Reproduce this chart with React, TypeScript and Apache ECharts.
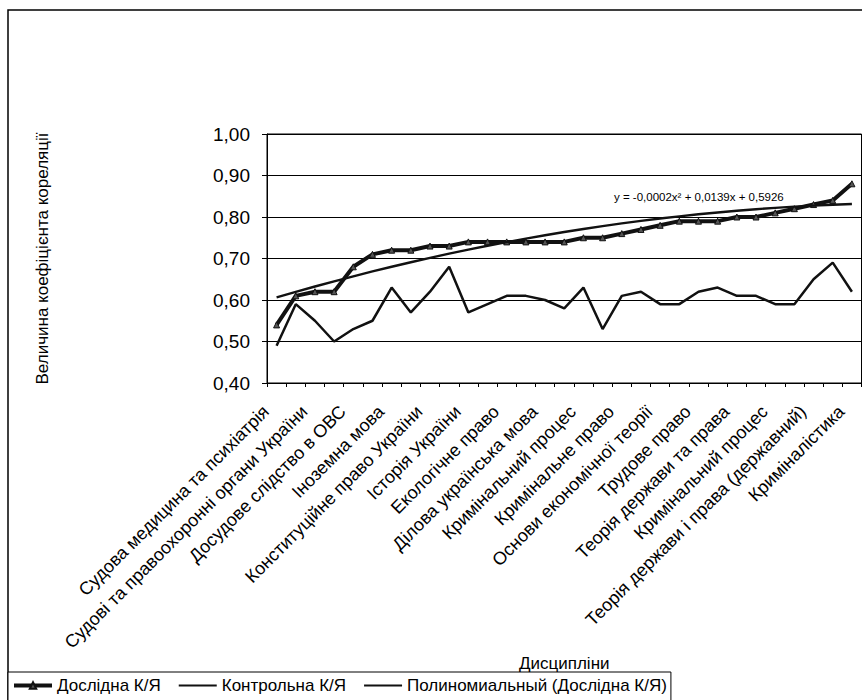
import React, { useEffect, useRef } from "react";
import * as echarts from "echarts";

const categories = [
  "Судова медицина та психіатрія",
  "Дисципліна 2",
  "Судові та правоохоронні органи України",
  "Дисципліна 4",
  "Досудове слідство в ОВС",
  "Дисципліна 6",
  "Іноземна мова",
  "Дисципліна 8",
  "Конституційне право України",
  "Дисципліна 10",
  "Історія України",
  "Дисципліна 12",
  "Екологічне право",
  "Дисципліна 14",
  "Ділова українська мова",
  "Дисципліна 16",
  "Кримінальний процес",
  "Дисципліна 18",
  "Кримінальне право",
  "Дисципліна 20",
  "Основи економічної теорії",
  "Дисципліна 22",
  "Трудове право",
  "Дисципліна 24",
  "Теорія держави та права",
  "Дисципліна 26",
  "Кримінальний процес",
  "Дисципліна 28",
  "Теорія держави і права (державний)",
  "Дисципліна 30",
  "Криміналістика",
];

const doslidna = [
  0.54, 0.61, 0.62, 0.62, 0.68, 0.71, 0.72, 0.72, 0.73, 0.73, 0.74, 0.74, 0.74,
  0.74, 0.74, 0.74, 0.75, 0.75, 0.76, 0.77, 0.78, 0.79, 0.79, 0.79, 0.8, 0.8,
  0.81, 0.82, 0.83, 0.84, 0.88,
];

const kontrolna = [
  0.49, 0.59, 0.55, 0.5, 0.53, 0.55, 0.63, 0.57, 0.62, 0.68, 0.57, 0.59, 0.61,
  0.61, 0.6, 0.58, 0.63, 0.53, 0.61, 0.62, 0.59, 0.59, 0.62, 0.63, 0.61, 0.61,
  0.59, 0.59, 0.65, 0.69, 0.62,
];

const trend = [
  0.6063, 0.6196, 0.6325, 0.645, 0.6571, 0.6688, 0.6801, 0.691, 0.7015,
  0.7116, 0.7213, 0.7306, 0.7395, 0.748, 0.7561, 0.7638, 0.7711, 0.778,
  0.7845, 0.7906, 0.7963, 0.8016, 0.8065, 0.811, 0.8151, 0.8188, 0.8221,
  0.825, 0.8275, 0.8296, 0.8313,
];

const seriesNames = [
  "Дослідна К/Я",
  "Контрольна К/Я",
  "Полиномиальный (Дослідна К/Я)",
];

const equationText = "y = -0,0002x² + 0,0139x + 0,5926";
const yAxisTitle = "Величина коефіцієнта кореляції";
const xAxisTitle = "Дисципліни";

export default function App() {
  const ref = useRef<HTMLDivElement>(null);

  useEffect(() => {
    if (!ref.current) return;
    const chart = echarts.init(ref.current, null, { renderer: "svg" });
    const font = "'Liberation Sans', Arial, sans-serif";
    chart.setOption({
      animation: false,
      backgroundColor: "#ffffff",
      textStyle: { fontFamily: font, color: "#000" },
      grid: {
        left: 267,
        right: 0.5,
        top: 134,
        bottom: 317,
        show: true,
        borderColor: "#000",
        borderWidth: 1,
        backgroundColor: "transparent",
      },
      xAxis: {
        type: "category",
        data: categories,
        boundaryGap: true,
        name: xAxisTitle,
        nameLocation: "middle",
        nameGap: 268,
        nameTextStyle: { fontSize: 17, color: "#000", fontFamily: font },
        axisLine: { lineStyle: { color: "#000", width: 1 } },
        axisTick: { show: true, interval: 0, length: 4, lineStyle: { color: "#000" } },
        axisLabel: {
          interval: 1,
          rotate: 45,
          fontSize: 18,
          color: "#000",
          fontFamily: font,
          margin: 15,
          padding: [0, 15, 0, 0],
        },
        splitLine: { show: false },
      },
      yAxis: {
        type: "value",
        min: 0.4,
        max: 1.0,
        interval: 0.1,
        name: yAxisTitle,
        nameLocation: "middle",
        nameGap: 216,
        nameRotate: 90,
        nameTextStyle: { fontSize: 17, color: "#000", fontFamily: font },
        axisLine: { show: true, lineStyle: { color: "#000", width: 1 } },
        axisTick: { show: true, length: 5, lineStyle: { color: "#000" } },
        axisLabel: {
          fontSize: 19,
          color: "#000",
          fontFamily: font,
          margin: 17,
          formatter: (v: number) => v.toFixed(2).replace(".", ","),
        },
        splitLine: { show: true, lineStyle: { color: "#000", width: 1 } },
      },
      legend: {
        left: 8,
        top: 672,
        orient: "horizontal",
        padding: [5, 4, 20, 4],
        itemWidth: 38,
        itemHeight: 8,
        itemGap: 17,
        backgroundColor: "#fff",
        borderColor: "#000",
        borderWidth: 1,
        textStyle: { fontSize: 17, color: "#000", fontFamily: font },
        data: [
          { name: seriesNames[0], lineStyle: { width: 4, color: "#111" } },
          {
            name: seriesNames[1],
            itemStyle: { opacity: 0 },
            lineStyle: { width: 2, color: "#111" },
          },
          {
            name: seriesNames[2],
            itemStyle: { opacity: 0 },
            lineStyle: { width: 2, color: "#111" },
          },
        ],
      },
      graphic: [
        {
          type: "rect",
          silent: true,
          z: -1,
          shape: { x: 8, y: 10, width: 900, height: 800 },
          style: { fill: "none", stroke: "#000", lineWidth: 1.5 },
        },
        {
          type: "text",
          x: 614,
          y: 197,
          style: {
            text: equationText,
            fontSize: 11.5,
            fontFamily: font,
            fill: "#000",
            verticalAlign: "middle",
          },
        },
      ],
      series: [
        {
          name: seriesNames[0],
          type: "line",
          data: doslidna,
          symbol: "triangle",
          symbolSize: 6,
          showSymbol: true,
          lineStyle: { color: "#111", width: 4 },
          itemStyle: { color: "#555", borderColor: "#111", borderWidth: 1 },
          z: 3,
        },
        {
          name: seriesNames[1],
          type: "line",
          data: kontrolna,
          symbol: "none",
          lineStyle: { color: "#111", width: 2.5 },
          itemStyle: { color: "#111" },
          z: 2,
        },
        {
          name: seriesNames[2],
          type: "line",
          data: trend,
          symbol: "none",
          lineStyle: { color: "#111", width: 2.4 },
          itemStyle: { color: "#111" },
          z: 4,
        },
      ],
    });
    return () => chart.dispose();
  }, []);

  return (
    <div
      ref={ref}
      style={{ position: "fixed", left: 0, top: 0, width: 862, height: 700 }}
    />
  );
}
